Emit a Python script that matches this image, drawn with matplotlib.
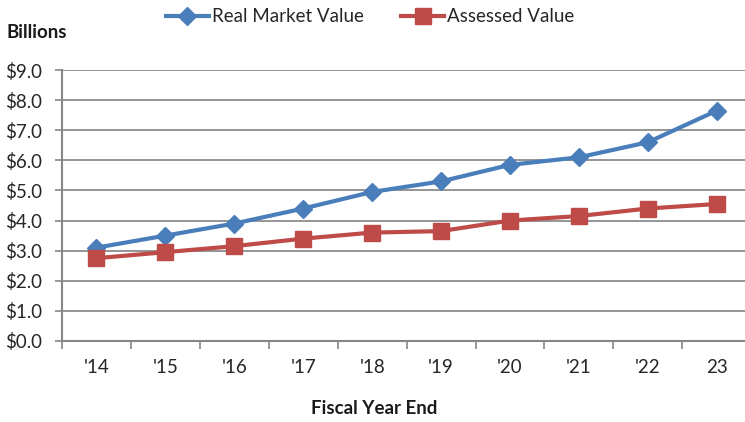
import matplotlib.pyplot as plt

years = ["'14", "'15", "'16", "'17", "'18", "'19", "'20", "'21", "'22", "23"]
real_market = [3.1, 3.5, 3.9, 4.4, 4.95, 5.3, 5.85, 6.1, 6.6, 7.65]
assessed = [2.75, 2.95, 3.15, 3.4, 3.6, 3.65, 4.0, 4.15, 4.4, 4.55]
y_ticks = [0, 1, 2, 3, 4, 5, 6, 7, 8, 9]

plt.rcParams['font.family'] = ['Lato', 'DejaVu Sans']
fs = 13.5

fig = plt.figure(figsize=(7.45, 4.22), dpi=100)
ax = fig.add_axes([62 / 745, 81 / 422, 683 / 745, 271 / 422])

x = list(range(len(years)))
ax.plot(x, real_market, color='#4a7ebb', lw=3, marker='D', markersize=9,
        label='Real Market Value', zorder=3)
ax.plot(x, assessed, color='#be4b48', lw=3, marker='s', markersize=11,
        label='Assessed Value', zorder=3)

ax.set_ylim(0, 9)
ax.set_xlim(-0.5, 9.41)
ax.set_yticks(y_ticks)
ax.set_yticklabels(['${:.1f}'.format(v) for v in y_ticks], fontsize=fs, color='#262626')
ax.set_xticks(x)
ax.set_xticklabels(years, fontsize=fs, color='#262626')
ax.tick_params(axis='x', length=0, pad=13)
ax.set_xticks([i - 0.5 for i in range(len(years))], minor=True)
ax.tick_params(axis='x', which='minor', length=6, color='#868686', width=1.2)
ax.tick_params(axis='y', length=5, color='#868686', width=1.2, pad=9)

ax.grid(axis='y', color='#8c8c8c', lw=1.3)
ax.set_axisbelow(True)
for side in ['top', 'right']:
    ax.spines[side].set_visible(False)
for side in ['left', 'bottom']:
    ax.spines[side].set_color('#868686')
    ax.spines[side].set_linewidth(1.5)

fig.text(7 / 745, 1 - 33 / 422, 'Billions', fontsize=fs, fontweight='bold',
         va='center', ha='left', color='#1a1a1a')
fig.text(374 / 745, 1 - 408 / 422, 'Fiscal Year End', fontsize=fs, fontweight='bold',
         va='center', ha='center', color='#1a1a1a')

fig.legend(loc='center', bbox_to_anchor=(370 / 745, 1 - 17 / 422), ncol=2, frameon=False,
           fontsize=fs, handlelength=2.3, handletextpad=0.15, columnspacing=2.0,
           labelcolor='#262626')

fig.savefig('out.png', dpi=100)
